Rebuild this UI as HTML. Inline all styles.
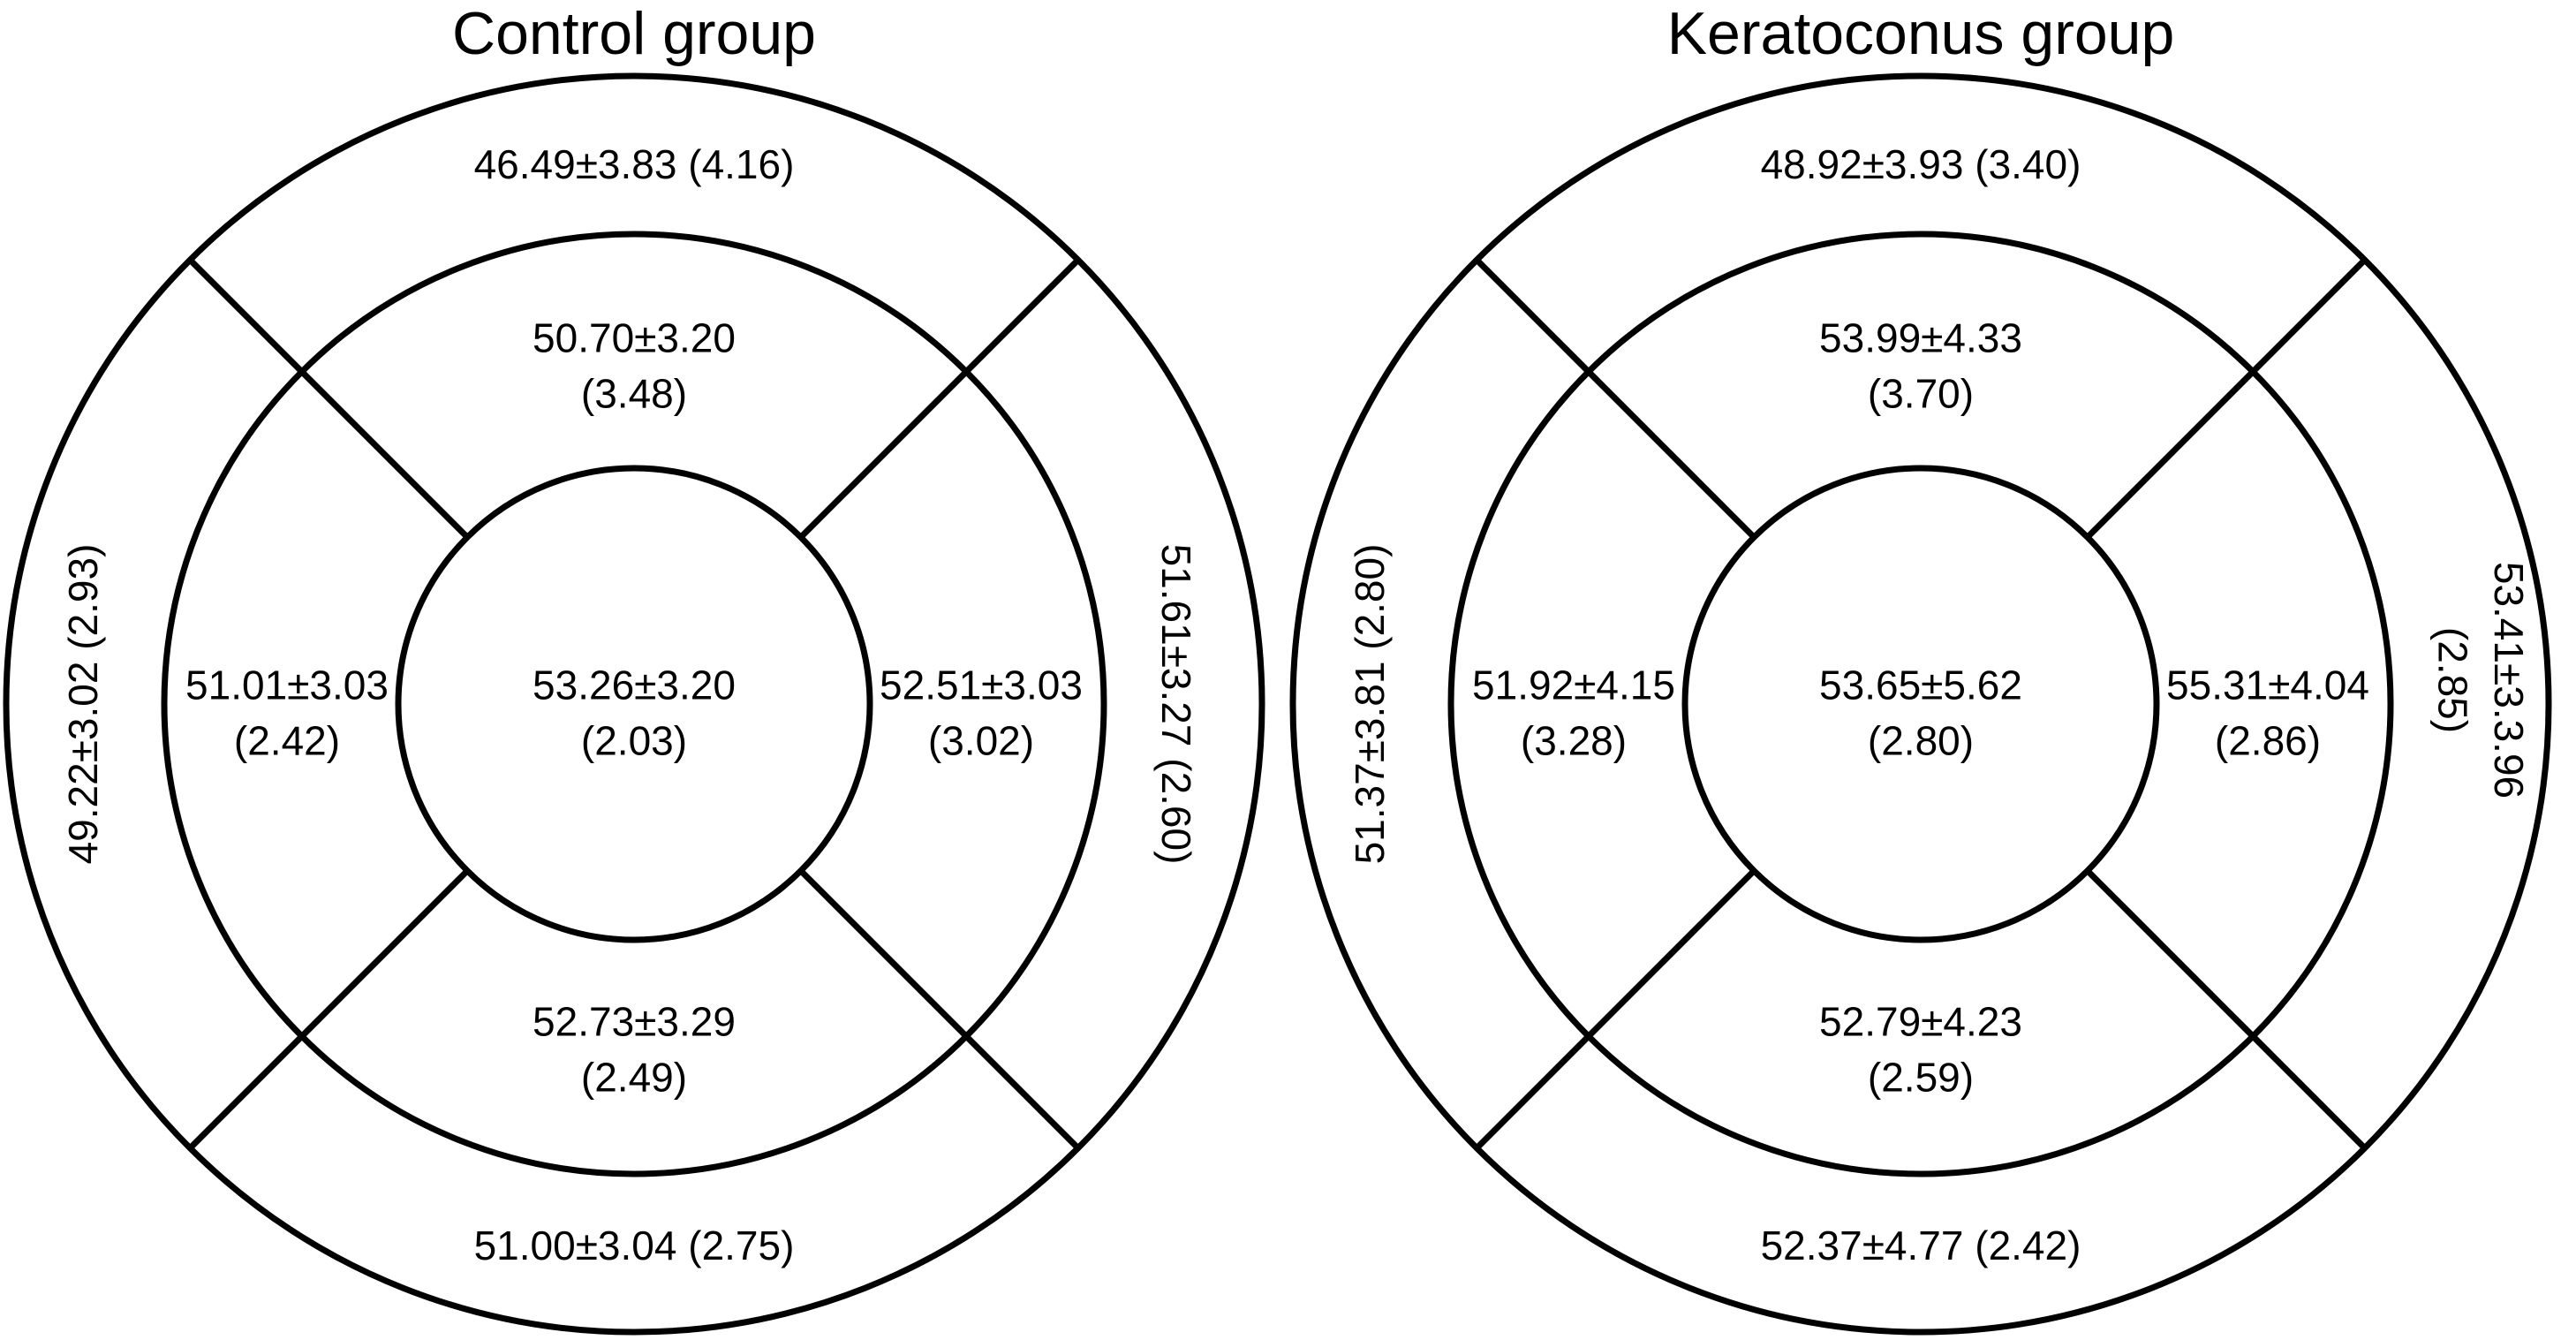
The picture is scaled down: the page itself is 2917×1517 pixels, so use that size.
<!DOCTYPE html>
<html><head><meta charset="utf-8"><style>
html,body{margin:0;padding:0;background:#fff;}
svg{display:block;}
text{font-family:"Liberation Sans",sans-serif;fill:#000;}
</style></head><body>
<svg id="chart" width="2917" height="1517" viewBox="0 0 2917 1517" xmlns="http://www.w3.org/2000/svg"></svg>
<script>
const groups = ["Control group","Keratoconus group"];
const centerVals = ["53.26±3.20|(2.03)","53.65±5.62|(2.80)"];
const midTop = ["50.70±3.20|(3.48)","53.99±4.33|(3.70)"];
const midBottom = ["52.73±3.29|(2.49)","52.79±4.23|(2.59)"];
const midLeft = ["51.01±3.03|(2.42)","51.92±4.15|(3.28)"];
const midRight = ["52.51±3.03|(3.02)","55.31±4.04|(2.86)"];
const outTop = ["46.49±3.83 (4.16)","48.92±3.93 (3.40)"];
const outBottom = ["51.00±3.04 (2.75)","52.37±4.77 (2.42)"];
const outLeft = ["49.22±3.02 (2.93)","51.37±3.81 (2.80)"];
const outRight = ["51.61±3.27 (2.60)","53.41±3.3.96|(2.85)"];

const svg=document.getElementById('chart');
const NS="http://www.w3.org/2000/svg";
const cxs=[718,2175], cy=797, R=[711,532,267];
function mk(tag,attrs,parent){const e=document.createElementNS(NS,tag);for(const k in attrs)e.setAttribute(k,attrs[k]);(parent||svg).appendChild(e);return e;}
function label(g,str,x,y,size,rot,name){
  const lines=str.split('|');const lh=size*1.38;
  const t=mk('text',{x:x,y:y,'text-anchor':'middle','font-size':size},g);
  
  
  if(rot)t.setAttribute('transform','rotate('+rot+' '+x+' '+y+')');
  lines.forEach((l,i)=>{const ts=mk('tspan',{x:x,y:y+(i-(lines.length-1)/2)*lh,'dominant-baseline':'central'},t);ts.textContent=l;});
}
groups.forEach((name,gi)=>{
  const cx=cxs[gi];
  const g=mk('g',{});
  
  
  const tt=mk('text',{x:cx,y:38,'text-anchor':'middle','dominant-baseline':'central','font-size':68},g);
  
  
  tt.textContent=name;
  R.forEach((r,ri)=>{const c=mk('circle',{cx:cx,cy:cy,r:r,fill:'none',stroke:'#000','stroke-width':7},g);
    
    });
  [45,135,225,315].forEach(a=>{const ra=a*Math.PI/180,c=Math.cos(ra),s=Math.sin(ra);
    const l=mk('line',{x1:cx+c*R[2],y1:cy+s*R[2],x2:cx+c*R[0],y2:cy+s*R[0],stroke:'#000','stroke-width':7},g);
    
    });
  const fs=46;
  label(g,centerVals[gi],cx,cy+10,fs,0,'center-value');
  label(g,midTop[gi],cx,cy-383,fs,0,'mid-top-value');
  label(g,midBottom[gi],cx,cy+391,fs,0,'mid-bottom-value');
  label(g,midLeft[gi],cx-393,cy+10,fs,0,'mid-left-value');
  label(g,midRight[gi],cx+393,cy+10,fs,0,'mid-right-value');
  label(g,outTop[gi],cx,186,fs,0,'outer-top-value');
  label(g,outBottom[gi],cx,1410,fs,0,'outer-bottom-value');
  label(g,outLeft[gi],cx-624,cy,fs,-90,'outer-left-value');
  label(g,outRight[gi],cx+(outRight[gi].includes('|')?634:614),gi?cy-27:cy,fs,90,'outer-right-value');
});
</script>
</body></html>
